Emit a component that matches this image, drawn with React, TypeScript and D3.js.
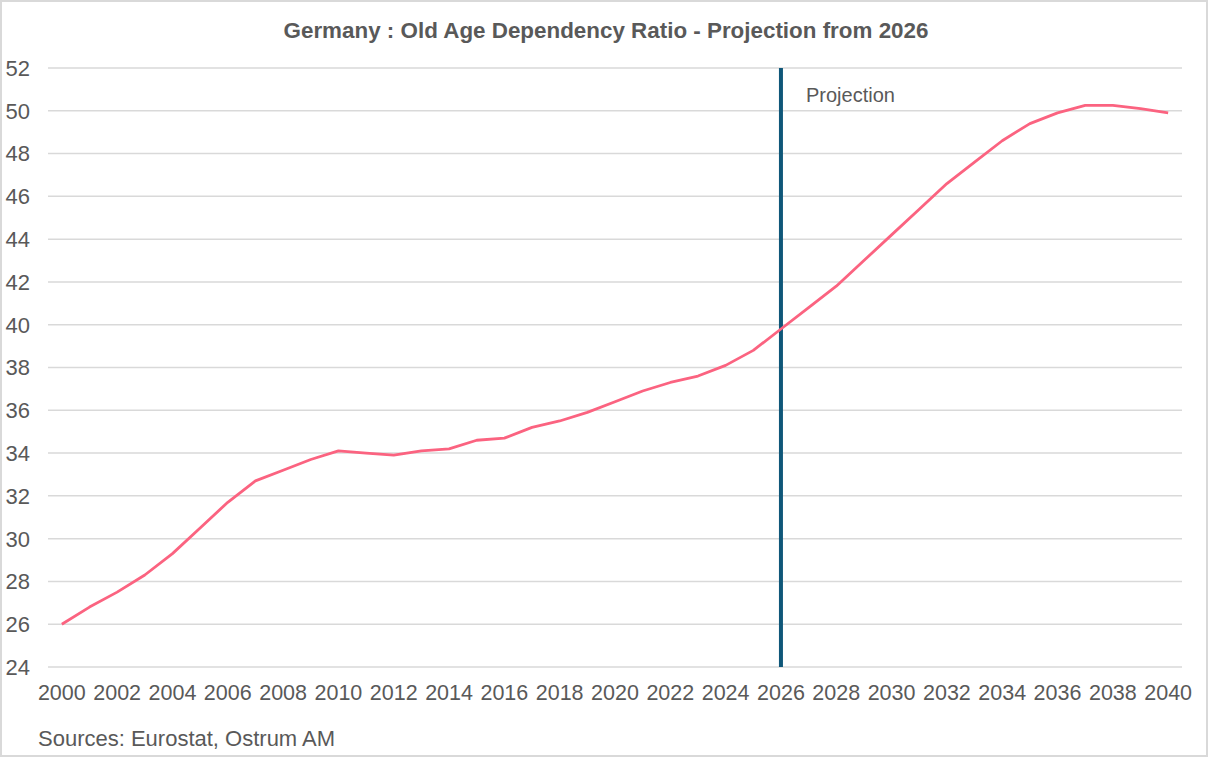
import * as d3 from "d3";

// Germany old-age dependency ratio, 2000-2040 (projection from 2026)
const years = d3.range(2000, 2041);
const ratio = [
  26.0, 26.8, 27.5, 28.3, 29.3, 30.5, 31.7, 32.7, 33.2, 33.7,
  34.1, 34.0, 33.9, 34.1, 34.2, 34.6, 34.7, 35.2, 35.5, 35.9,
  36.4, 36.9, 37.3, 37.6, 38.1, 38.8, 39.8, 40.8, 41.8, 43.0,
  44.2, 45.4, 46.6, 47.6, 48.6, 49.4, 49.9, 50.25, 50.25, 50.1,
  49.9,
];
const yTicks = d3.range(24, 53, 2);
const xTicks = d3.range(2000, 2041, 2);
const projectionYear = 2026;

const title = "Germany : Old Age Dependency Ratio - Projection from 2026";
const source = "Sources: Eurostat, Ostrum AM";

const W = 1210;
const H = 758;
const FONT = "'Liberation Sans', Arial, sans-serif";
const TEXT = "#595959";

export default function App() {
  const x = d3.scaleLinear().domain([1999.5, 2040.5]).range([48, 1182]);
  const y = d3.scaleLinear().domain([24, 52]).range([667, 68]);

  const line = d3
    .line<number>()
    .x((_, i) => x(years[i]))
    .y((d) => y(d));

  return (
    <svg
      width={W}
      height={H}
      style={{ position: "absolute", left: 0, top: 0, background: "#fff" }}
      fontFamily={FONT}
    >
      <rect x={1} y={1} width={W - 4} height={H - 3} fill="#fff" stroke="#d9d9d9" strokeWidth={2} />

      <text x={606} y={38} textAnchor="middle" fontSize={22.4} fontWeight="bold" fill={TEXT}>
        {title}
      </text>

      {yTicks.map((t) => (
        <g key={t}>
          <line x1={48} x2={1182} y1={y(t)} y2={y(t)} stroke="#d9d9d9" strokeWidth={1.5} />
          <text x={30} y={y(t)} dy="0.36em" textAnchor="end" fontSize={22} fill={TEXT}>
            {t}
          </text>
        </g>
      ))}

      {xTicks.map((t) => (
        <text key={t} x={x(t)} y={700} textAnchor="middle" fontSize={21.5} fill={TEXT}>
          {t}
        </text>
      ))}

      <line
        x1={x(projectionYear)}
        x2={x(projectionYear)}
        y1={y(52)}
        y2={y(24)}
        stroke="#0f5779"
        strokeWidth={4}
      />
      <text x={x(projectionYear) + 25} y={102} fontSize={20} fill={TEXT}>
        Projection
      </text>

      <path d={line(ratio) ?? ""} fill="none" stroke="#fb6380" strokeWidth={2.8} strokeLinejoin="round" />

      <text x={38} y={746} fontSize={22} fill={TEXT}>
        {source}
      </text>
    </svg>
  );
}
